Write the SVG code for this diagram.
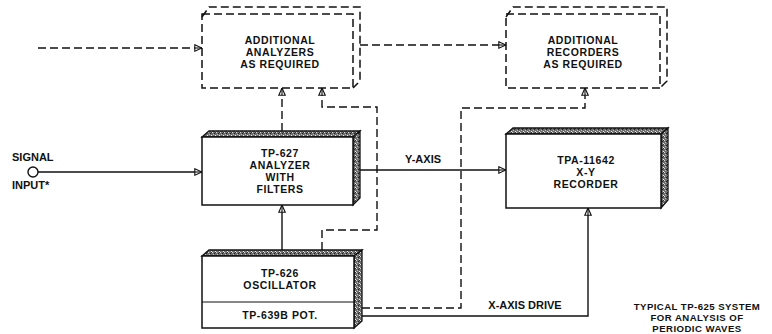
<svg xmlns="http://www.w3.org/2000/svg" width="772" height="334" viewBox="0 0 772 334">
<style>
.t{font-family:"Liberation Sans",Arial,sans-serif;font-weight:bold;font-size:10.5px;letter-spacing:0.6px;text-anchor:middle;fill:#111}
.l{font-family:"Liberation Sans",Arial,sans-serif;font-weight:bold;font-size:11px;fill:#111}
.c{font-family:"Liberation Sans",Arial,sans-serif;font-weight:bold;font-size:9.6px;letter-spacing:0.45px;text-anchor:middle;fill:#111}
.face{fill:url(#tex);stroke:#111;stroke-width:1.3}
.box{fill:#fff;stroke:#111;stroke-width:1.5}
.dbox{fill:none;stroke:#111;stroke-width:1.5;stroke-dasharray:8 4}
.s{fill:none;stroke:#111;stroke-width:1.4}
.d{fill:none;stroke:#111;stroke-width:1.4;stroke-dasharray:8 4}
</style>
<defs>
<pattern id="tex" width="4" height="4" patternUnits="userSpaceOnUse">
<rect width="4" height="4" fill="#6e6e6e"/>
<rect x="0" y="0" width="1" height="1" fill="#ddd"/>
<rect x="2" y="1" width="1" height="1" fill="#222"/>
<rect x="1" y="2" width="1" height="1" fill="#bbb"/>
<rect x="3" y="3" width="1" height="1" fill="#eee"/>
<rect x="3" y="0" width="1" height="1" fill="#333"/>
</pattern>
<marker id="ah" viewBox="0 0 10 10" refX="10" refY="5" markerWidth="8" markerHeight="8" markerUnits="userSpaceOnUse" orient="auto">
<path d="M1,1 L10,5 L1,9 Z" fill="#fff" stroke="#111" stroke-width="1.4"/>
<path d="M1,5 L10,5" stroke="#111" stroke-width="1.4"/>
</marker>
</defs>
<rect width="772" height="334" fill="#fff"/>

<g id="connectors">
<path class="d" d="M38,48 H202" marker-end="url(#ah)"/>
<path class="d" d="M360,45 H506" marker-end="url(#ah)"/>
<path class="s" d="M38,172 H202" marker-end="url(#ah)"/>
<path class="s" d="M360,170 H506" marker-end="url(#ah)"/>
<path class="s" d="M282,250 V205" marker-end="url(#ah)"/>
<path class="d" d="M282,131 V88" marker-end="url(#ah)"/>
<path class="d" d="M322,250 V230 H377 V107 H322 V88" marker-end="url(#ah)"/>
<path class="d" d="M362,308 H461 V108 H585 V88" marker-end="url(#ah)"/>
<path class="s" d="M362,316 H588 V208" marker-end="url(#ah)"/>
<text class="l" x="423" y="163" text-anchor="middle">Y-AXIS</text>
<text class="l" x="525" y="309" text-anchor="middle">X-AXIS DRIVE</text>
</g>

<g id="signal-input">
<circle cx="33" cy="172" r="5" fill="#fff" stroke="#111" stroke-width="1.4"/>
<text class="l" x="12" y="161">SIGNAL</text>
<text class="l" x="12" y="189">INPUT*</text>
</g>

<g id="additional-analyzers">
<rect class="dbox" x="202" y="14" width="151" height="74"/>
<path class="dbox" d="M202,17 L209,7 H360 V81 L353,88"/>
<text class="t" x="280" y="44">ADDITIONAL</text>
<text class="t" x="280" y="56">ANALYZERS</text>
<text class="t" x="280" y="68">AS REQUIRED</text>
</g>

<g id="additional-recorders">
<rect class="dbox" x="506" y="14" width="154" height="74"/>
<path class="dbox" d="M506,17 L513,7 H667 V81 L660,88"/>
<text class="t" x="583" y="44">ADDITIONAL</text>
<text class="t" x="583" y="56">RECORDERS</text>
<text class="t" x="583" y="68">AS REQUIRED</text>
</g>

<g id="analyzer">
<path class="face" d="M202,137 L209,131 H360 L353,137 Z"/>
<path class="face" d="M353,137 L360,131 V198 L353,205 Z"/>
<rect class="box" x="202" y="137" width="151" height="68"/>
<text class="t" x="280" y="157">TP-627</text>
<text class="t" x="280" y="169">ANALYZER</text>
<text class="t" x="280" y="181">WITH</text>
<text class="t" x="280" y="193">FILTERS</text>
</g>

<g id="recorder">
<path class="face" d="M506,134 L513,128 H668 L661,134 Z"/>
<path class="face" d="M661,134 L668,128 V200 L661,208 Z"/>
<rect class="box" x="506" y="134" width="155" height="74"/>
<text class="t" x="586" y="164">TPA-11642</text>
<text class="t" x="586" y="176">X-Y</text>
<text class="t" x="586" y="188">RECORDER</text>
</g>

<g id="oscillator">
<path class="face" d="M202,256 L209,250 H362 L354,256 Z"/>
<path class="face" d="M354,256 L362,250 V321 L354,328 Z"/>
<rect class="box" x="202" y="256" width="152" height="72"/>
<line x1="202" y1="302" x2="354" y2="302" stroke="#111" stroke-width="1.2"/>
<text class="t" x="280" y="277">TP-626</text>
<text class="t" x="280" y="289">OSCILLATOR</text>
<text class="t" x="280" y="319">TP-639B  POT.</text>
</g>

<g id="caption">
<text class="c" x="697" y="310">TYPICAL TP-625 SYSTEM</text>
<text class="c" x="697" y="321">FOR ANALYSIS OF</text>
<text class="c" x="697" y="332">PERIODIC WAVES</text>
</g>
</svg>
